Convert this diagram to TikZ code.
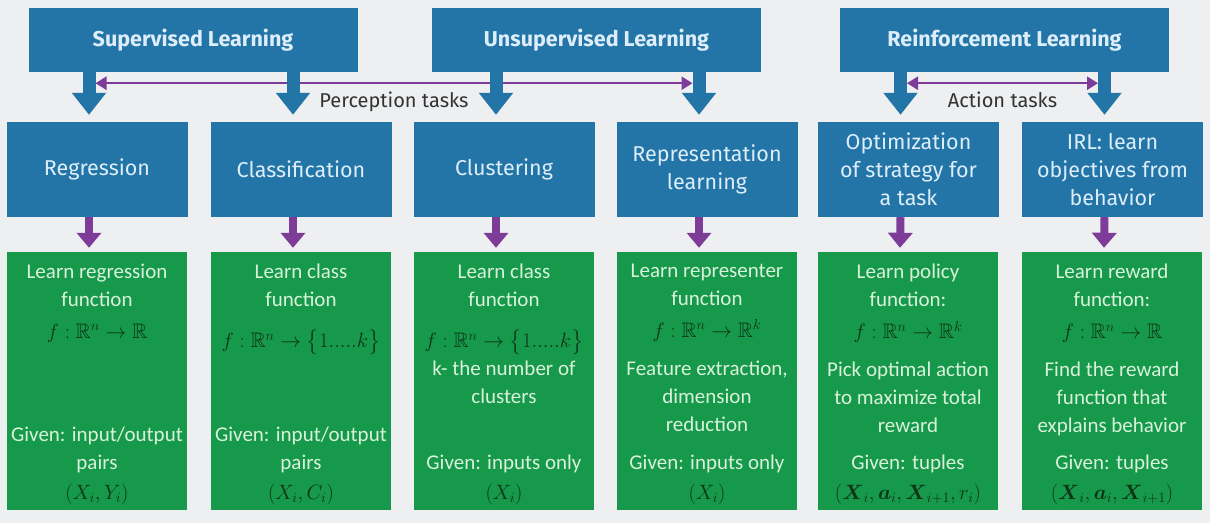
\documentclass[tikz,border=0pt]{standalone}
\usepackage{amsmath,amssymb}
\usepackage[no-math]{fontspec}
\setmainfont{Fira Sans}
\newfontfamily\greenfont{Carlito}
\usetikzlibrary{arrows.meta}

\definecolor{bgpale}{HTML}{EDEFF1}
\definecolor{boxblue}{HTML}{2275A6}
\definecolor{boxtext}{HTML}{DDEEFA}
\definecolor{infogreen}{HTML}{16994A}
\definecolor{greentext}{HTML}{D9F2DC}
\definecolor{mathgreen}{HTML}{0D3318}
\definecolor{taskpurple}{HTML}{7D3C98}
\definecolor{labelgray}{HTML}{333333}

\newcommand{\formula}[1]{{\color{mathgreen}#1}}

\begin{document}
\begin{tikzpicture}[x=1pt,y=-1pt]
% --- styles ---------------------------------------------------
\tikzstyle{topbox}     =[fill=boxblue,text=boxtext,minimum width=329pt,minimum height=64pt,inner sep=0pt,font=\fontsize{21.5}{26}\selectfont\bfseries]
\tikzstyle{taskbox}    =[fill=boxblue,text=boxtext,minimum width=181pt,minimum height=95pt,inner sep=0pt,align=center,font=\fontsize{21.5}{28}\selectfont]
\tikzstyle{infobox}    =[fill=infogreen,minimum width=180pt,minimum height=258pt,inner sep=0pt]
\tikzstyle{infotext}   =[text=greentext,align=center,inner sep=0pt,font=\greenfont\fontsize{21}{28}\selectfont]
\tikzstyle{bluearrow}  =[draw=boxblue,line width=13pt,-{Triangle[length=22pt,width=33pt,color=boxblue]}]
\tikzstyle{purplearrow}=[draw=taskpurple,line width=8pt,-{Triangle[length=15pt,width=24pt,color=taskpurple]}]
\tikzstyle{taskarrow}  =[draw=taskpurple,line width=2.5pt,{Triangle[length=11pt,width=13pt,color=taskpurple]}-{Triangle[length=11pt,width=13pt,color=taskpurple]}]
\tikzstyle{tasklabel}  =[text=labelgray,font=\fontsize{20}{24}\selectfont,inner sep=0pt]

\useasboundingbox (0,0) rectangle (1210,523);
\fill[bgpale] (0,0) rectangle (1210,523);

% --- learning types -------------------------------------------
\node[topbox] (sup)   at (193,40)    {Supervised Learning};
\node[topbox] (unsup) at (596.5,40)  {Unsupervised Learning};
\node[topbox] (reinf) at (1004.5,40) {Reinforcement Learning};

% --- tasks ----------------------------------------------------
\node[taskbox] (reg) at (97,169.5)     {Regression};
\node[taskbox] (cls) at (301,169.5)    {Classification};
\node[taskbox] (clu) at (504,169.5)    {Clustering};
\node[taskbox] (rep) at (707,169.5)    {Representation\\learning};
\node[taskbox] (opt) at (908.5,169.5)  {Optimization\\of strategy for\\a task};
\node[taskbox] (irl) at (1112.5,169.5) {IRL: learn\\objectives from\\behavior};

% --- green detail boxes ---------------------------------------
\node[infobox] (regf) at (97,381)   {};
\node[infobox] (clsf) at (301,381)  {};
\node[infobox] (cluf) at (504,381)  {};
\node[infobox] (repf) at (707,381)  {};
\node[infobox] (optf) at (908,381)  {};
\node[infobox] (irlf) at (1112,381) {};

% what is learned
\node[infotext,anchor=north] (regtop) at ([yshift=-12pt]regf.north) {Learn regression\\function\\[4pt]\formula{$f:\mathbb{R}^n\to\mathbb{R}$}};
\node[infotext,anchor=north] (clstop) at ([yshift=-12pt]clsf.north) {Learn class\\function\\[13pt]\formula{$f:\mathbb{R}^n\to\bigl\{1.....k\bigr\}$}};
\node[infotext,anchor=north] (clutop) at ([yshift=-12pt]cluf.north) {Learn class\\function\\[13pt]\formula{$f:\mathbb{R}^n\to\bigl\{1.....k\bigr\}$}\\[0pt]k- the number of\\clusters};
\node[infotext,anchor=north] (reptop) at ([yshift=-12pt]repf.north) {Learn representer\\function\\[4pt]\formula{$f:\mathbb{R}^n\to\mathbb{R}^k$}\\[10pt]Feature extraction,\\dimension\\reduction};
\node[infotext,anchor=north] (opttop) at ([yshift=-12pt]optf.north) {Learn policy\\function:\\[4pt]\formula{$f:\mathbb{R}^n\to\mathbb{R}^k$}\\[10pt]Pick optimal action\\to maximize total\\reward};
\node[infotext,anchor=north] (irltop) at ([yshift=-12pt]irlf.north) {Learn reward\\function:\\[4pt]\formula{$f:\mathbb{R}^n\to\mathbb{R}$}\\[10pt]Find the reward\\function that\\explains behavior};

% what is given
\node[infotext,anchor=south] (regbot) at ([yshift=5pt]regf.south) {Given: input/output\\pairs\\[2pt]\formula{$(X_i,Y_i)$}};
\node[infotext,anchor=south] (clsbot) at ([yshift=5pt]clsf.south) {Given: input/output\\pairs\\[2pt]\formula{$(X_i,C_i)$}};
\node[infotext,anchor=south] (clubot) at ([yshift=5pt]cluf.south) {Given: inputs only\\[2pt]\formula{$(X_i)$}};
\node[infotext,anchor=south] (repbot) at ([yshift=5pt]repf.south) {Given: inputs only\\[2pt]\formula{$(X_i)$}};
\node[infotext,anchor=south] (optbot) at ([yshift=5pt]optf.south) {Given: tuples\\[2pt]\formula{$(\boldsymbol{X}_i,\boldsymbol{a}_i,\boldsymbol{X}_{i+1},r_i)$}};
\node[infotext,anchor=south] (irlbot) at ([yshift=5pt]irlf.south) {Given: tuples\\[2pt]\formula{$(\boldsymbol{X}_i,\boldsymbol{a}_i,\boldsymbol{X}_{i+1})$}};

% --- perception / action ranges -------------------------------
\draw[taskarrow] ([xshift=-1.5pt,yshift=-11pt]reg.north |- sup.south) -- ([xshift=-14.5pt,yshift=-11pt]rep.north |- sup.south)
  node[midway,tasklabel,yshift=-19pt] (perc) {Perception tasks};
\draw[taskarrow] ([xshift=-1.5pt,yshift=-11pt]opt.north |- reinf.south) -- ([xshift=-14.5pt,yshift=-11pt]irl.north |- reinf.south)
  node[midway,tasklabel,yshift=-17pt] (act) {Action tasks};

% --- blue arrows: type -> task --------------------------------
\draw[bluearrow] ([xshift=-8pt]reg.north |- sup.south)   -- ([xshift=-8pt,yshift=7pt]reg.north);
\draw[bluearrow] ([xshift=-8pt]cls.north |- sup.south)   -- ([xshift=-8pt,yshift=7pt]cls.north);
\draw[bluearrow] ([xshift=-8pt]clu.north |- unsup.south) -- ([xshift=-8pt,yshift=7pt]clu.north);
\draw[bluearrow] ([xshift=-8pt]rep.north |- unsup.south) -- ([xshift=-8pt,yshift=7pt]rep.north);
\draw[bluearrow] ([xshift=-8pt]opt.north |- reinf.south) -- ([xshift=-8pt,yshift=7pt]opt.north);
\draw[bluearrow] ([xshift=-8pt]irl.north |- reinf.south) -- ([xshift=-8pt,yshift=7pt]irl.north);

% --- purple arrows: task -> detail ----------------------------
\draw[purplearrow] ([xshift=-8pt]reg.south) -- ([xshift=-8pt,yshift=4pt]regf.north);
\draw[purplearrow] ([xshift=-8pt]cls.south) -- ([xshift=-8pt,yshift=4pt]clsf.north);
\draw[purplearrow] ([xshift=-8pt]clu.south) -- ([xshift=-8pt,yshift=4pt]cluf.north);
\draw[purplearrow] ([xshift=-8pt]rep.south) -- ([xshift=-8pt,yshift=4pt]repf.north);
\draw[purplearrow] ([xshift=-8pt]opt.south) -- ([xshift=-8pt,yshift=4pt]optf.north);
\draw[purplearrow] ([xshift=-8pt]irl.south) -- ([xshift=-8pt,yshift=4pt]irlf.north);

\end{tikzpicture}
\end{document}
